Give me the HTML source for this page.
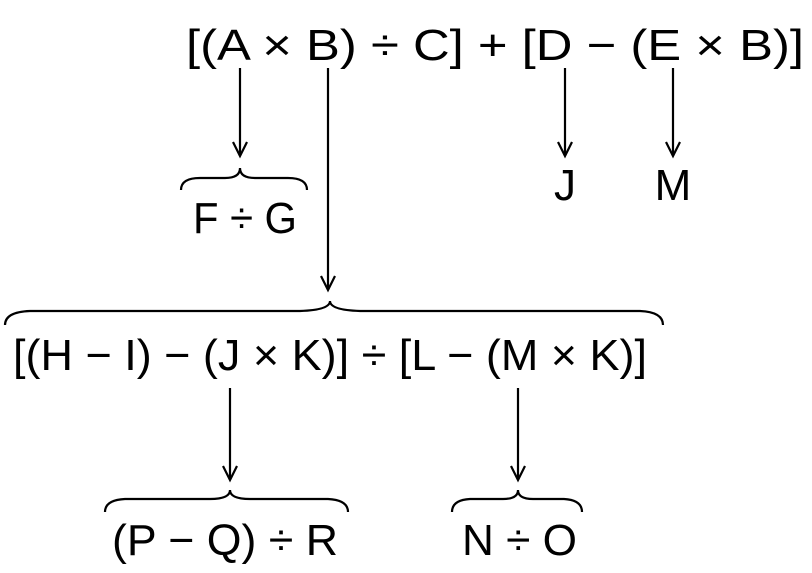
<!DOCTYPE html>
<html><head><style>html,body{margin:0;padding:0;background:#fff}svg{display:block}</style></head>
<body>
<svg width="812" height="573" viewBox="0 0 812 573" xmlns="http://www.w3.org/2000/svg">
<g font-family="Liberation Sans, sans-serif" font-size="44" fill="#000">
<text x="186" y="60" textLength="618" lengthAdjust="spacingAndGlyphs">[(A × B) ÷ C] + [D − (E × B)]</text>
<text x="193" y="233" textLength="104" lengthAdjust="spacingAndGlyphs">F ÷ G</text>
<text x="565" y="200" text-anchor="middle">J</text>
<text x="673" y="200" text-anchor="middle">M</text>
<text x="13" y="370" textLength="634" lengthAdjust="spacingAndGlyphs">[(H − I) − (J × K)] ÷ [L − (M × K)]</text>
<text x="112" y="555" textLength="226" lengthAdjust="spacingAndGlyphs">(P − Q) ÷ R</text>
<text x="462" y="555" textLength="115" lengthAdjust="spacingAndGlyphs">N ÷ O</text>
</g>
<g stroke="#000" stroke-width="2.2" fill="none">
<line x1="240" y1="68" x2="240" y2="156"/><polyline points="233,142 240,156 247,142"/>
<line x1="328" y1="68" x2="328" y2="290"/><polyline points="321,276 328,290 335,276"/>
<line x1="565" y1="68" x2="565" y2="156"/><polyline points="558,142 565,156 572,142"/>
<line x1="673" y1="68" x2="673" y2="156"/><polyline points="666,142 673,156 680,142"/>
<line x1="230" y1="388" x2="230" y2="480"/><polyline points="223,466 230,480 237,466"/>
<line x1="518" y1="388" x2="518" y2="480"/><polyline points="511,466 518,480 525,466"/>
<path d="M181,190 Q181,178 200,178 L225,178 Q240,178 240,168 Q240,178 255,178 L288,178 Q307,178 307,190"/>
<path d="M5,325 Q5,312 30,311 L300,311 Q330,310 330,301 Q330,310 360,311 L640,311 Q663,312 663,325"/>
<path d="M105,512 Q105,500 125,499 L210,499 Q230,499 230,490 Q230,499 250,499 L328,499 Q348,500 348,512"/>
<path d="M452,512 Q452,500 470,499 L503,499 Q518,499 518,490 Q518,499 533,499 L564,499 Q582,500 582,512"/>
</g>
</svg>
</body></html>
